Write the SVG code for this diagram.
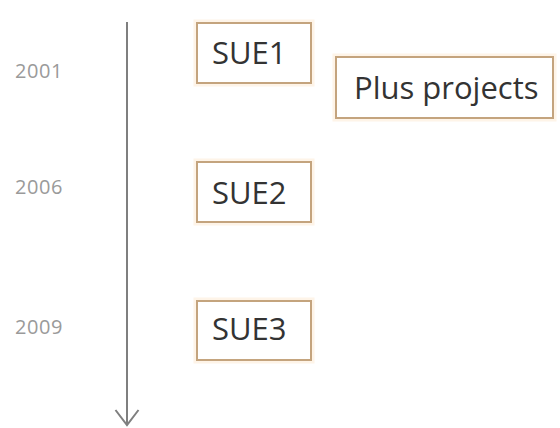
<svg xmlns="http://www.w3.org/2000/svg" width="560" height="428" viewBox="0 0 560 428">
<defs>
<style>
.glow{fill:none;stroke:#fef4e8;stroke-width:7}
.box{fill:#ffffff;stroke:#c4a47e;stroke-width:2}
.lbl{font-family:"Open Sans","Liberation Sans",sans-serif;font-size:31px;fill:#333333}
.yr{font-family:"Open Sans","Liberation Sans",sans-serif;font-size:20px;fill:#9a9a9a;letter-spacing:0.6px}
.axis{stroke:#7f7f7f;stroke-width:2;fill:none}
</style>
</defs>
<rect width="560" height="428" fill="#ffffff"/>
<g id="connectors">
<path class="axis" d="M127,22 L127,425"/>
<path class="axis" d="M115.5,410 L127,425 L138.5,410"/>
</g>
<g id="years">
<text class="yr" x="15" y="78">2001</text>
<text class="yr" x="15" y="194">2006</text>
<text class="yr" x="15" y="334">2009</text>
</g>
<g id="sue1">
<rect class="glow" x="197" y="23" width="114" height="60"/>
<rect class="box" x="197" y="23" width="114" height="60"/>
<text class="lbl" x="212" y="64">SUE1</text>
</g>
<g id="plus">
<rect class="glow" x="336" y="57" width="217" height="61"/>
<rect class="box" x="336" y="57" width="217" height="61"/>
<text class="lbl" x="354" y="99">Plus projects</text>
</g>
<g id="sue2">
<rect class="glow" x="197" y="162" width="114" height="60"/>
<rect class="box" x="197" y="162" width="114" height="60"/>
<text class="lbl" x="212" y="204">SUE2</text>
</g>
<g id="sue3">
<rect class="glow" x="197" y="301" width="114" height="59"/>
<rect class="box" x="197" y="301" width="114" height="59"/>
<text class="lbl" x="212" y="340">SUE3</text>
</g>
</svg>
